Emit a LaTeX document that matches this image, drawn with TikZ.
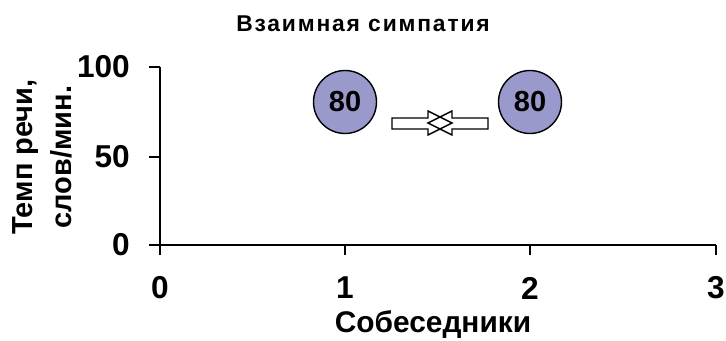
\documentclass[tikz,border=0pt]{standalone}
\usepackage{fontspec}
\setmainfont{Liberation Sans}
\begin{document}
\begin{tikzpicture}[x=0.02cm, y=-0.02cm,
    axisline/.style={line width=1.1pt, black},
    ticklabel/.style={font=\bfseries\fontsize{18}{20}\selectfont},
    axislabel/.style={font=\bfseries\fontsize{17}{22}\selectfont},
    dot/.style={circle, draw=black, line width=0.8pt, fill=lavender, minimum size=1.26cm, inner sep=0pt, font=\bfseries\fontsize{16.5}{20}\selectfont},
    blockarrow/.style={draw=black, line width=0.8pt}]
    \definecolor{lavender}{RGB}{153,153,204}
    \useasboundingbox (0,0) rectangle (726,341);
    % title
    \node[font=\bfseries\fontsize{13}{15}\selectfont\addfontfeature{LetterSpace=8}] (title) at (363,24) {Взаимная симпатия};
    % axes
    \coordinate (o) at (160,245);
    \coordinate (ytop) at (160,67);
    \coordinate (xend) at (716,245);
    \draw[axisline] (149,245) -- (xend);
    \draw[axisline] (160,255) -- (ytop);
    \foreach \v/\yy in {100/67, 50/157, 0/245} {
        \draw[axisline] (149,\yy) -- (160,\yy);
        \node[ticklabel, anchor=east] (y\v) at (136,\yy) {\v};
    }
    \foreach \n/\xx in {0/160, 1/345, 2/530, 3/716} {
        \draw[axisline] (\xx,245) -- (\xx,255);
        \node[ticklabel] (x\n) at (\xx,288) {\n};
    }
    \node[axislabel] (xlabel) at (433,325) {Собеседники};
    \node[axislabel, font=\bfseries\fontsize{16.5}{22}\selectfont, rotate=90, align=center] (ylabel) at (42,157) {Темп речи,\\слов/мин.};
    % speakers
    \node[dot] (s1) at (345,102) {80};
    \node[dot] (s2) at (530,102) {80};
    % arrows meeting
    \draw[blockarrow] (392,118) -- (428,118) -- (428,111) -- (452,123) -- (428,135) -- (428,129) -- (392,129) -- cycle;
    \draw[blockarrow] (488,118) -- (452,118) -- (452,111) -- (428,123) -- (452,135) -- (452,129) -- (488,129) -- cycle;
\end{tikzpicture}
\end{document}
